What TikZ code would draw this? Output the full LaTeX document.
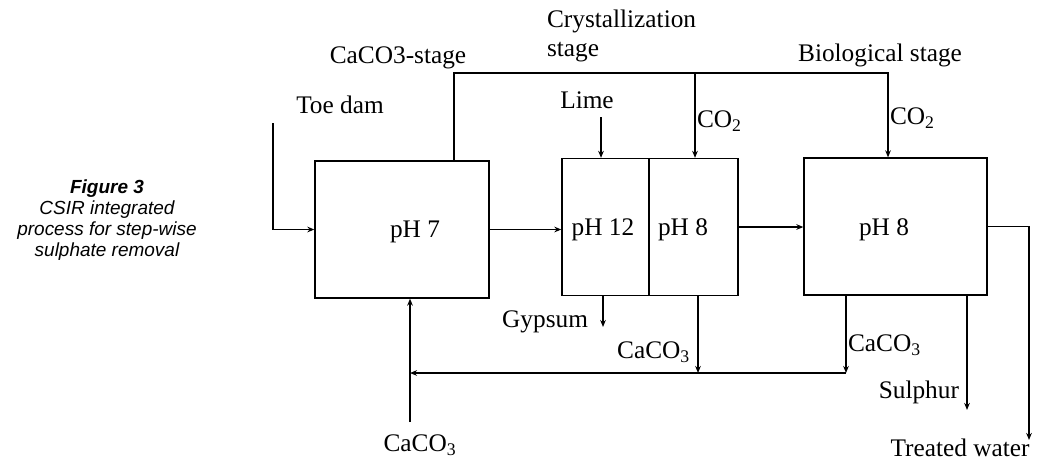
\documentclass[tikz,border=0pt]{standalone}
\usepackage{fontspec}
\setmainfont{Liberation Serif}
\newfontfamily\capfont{Liberation Sans}
\usetikzlibrary{arrows.meta,positioning,calc}

\begin{document}
\begin{tikzpicture}[>={Stealth[length=5pt,width=4pt]},x=0.025cm,y=-0.025cm,
  font=\fontsize{18}{20}\selectfont,line width=0.9pt,
  tank/.style={draw,rectangle,inner sep=0pt,minimum height=3.425cm},
  lbl/.style={inner sep=1pt}]
\useasboundingbox (0,0) rectangle (1049,460);
% the three stages
\node[tank,minimum width=4.35cm] (caco) at (402,229.5) {};
\node[tank,minimum width=4.4cm] (cryst) at (650,227) {};
\node[tank,minimum width=4.575cm] (bio) at (895.5,226.5) {};
\coordinate (wall) at (649,227);
\draw (wall |- cryst.north) -- (wall |- cryst.south);
\node (ph7) at (415,232) {pH 7};
\node (ph12) at (603,230) {pH 12};
\node (ph8a) at (683,230) {pH 8};
\node (ph8b) at (884,230) {pH 8};
% caption
\node[font=\capfont\fontsize{13.5}{15}\selectfont\itshape,align=center] (cap) at (107,220)
  {\textbf{Figure 3}\\CSIR integrated\\process for step-wise\\sulphate removal};
% stage names
\node[lbl] (toelbl) at (340,105) {Toe dam};
\node[lbl] (stage1) at (398,58) {CaCO3-stage};
\node[lbl,align=left,anchor=west] (stage2) at (545,36) {Crystallization\\stage};
\node[lbl] (stage3) at (880,55) {Biological stage};
\node[lbl] (limelbl) at (587,100) {Lime};
\node[lbl,anchor=west] (co2a) at (695,121) {CO\textsubscript{2}};
\node[lbl,anchor=west] (co2b) at (888,118) {CO\textsubscript{2}};
\node[lbl,anchor=east] (gyplbl) at (590,322) {Gypsum};
\node[lbl,anchor=east] (ca1lbl) at (692,352) {CaCO\textsubscript{3}};
\node[lbl,anchor=west] (ca2lbl) at (846,345) {CaCO\textsubscript{3}};
\node[lbl] (reclbl) at (420,445) {CaCO\textsubscript{3}};
\node[lbl,anchor=east] (sullbl) at (961,392) {Sulphur};
\node[lbl] (twlbl) at (960,448) {Treated water};
% points
\coordinate (toe) at (273,123);
\coordinate (topl) at (454,73);
\coordinate (topr) at (888,73);
\coordinate (co2c) at (695,73);
\coordinate (limein) at (601,117);
\coordinate (gyp) at (603,327);
\coordinate (ca1) at (698,373);
\coordinate (ca2) at (846,373);
\coordinate (rec) at (410,373);
\coordinate (recin) at (410,422);
\coordinate (sul) at (967,410);
\coordinate (tw) at (1029,440);
% flows
\draw[->] (toe) |- (caco.west);
\draw[->,line width=1.2pt] (caco.east) -- (caco.east -| cryst.west);
\draw[->,line width=1.2pt] (cryst.east) -- (cryst.east -| bio.west);
\draw[->] (topl |- caco.north) -- (topl) -- (topr) -- (topr |- bio.north);
\draw[->] (co2c) -- (co2c |- cryst.north);
\draw[->] (limein) -- (limein |- cryst.north);
\draw[->] (gyp |- cryst.south) -- (gyp);
\draw[->] (ca1 |- cryst.south) -- (ca1);
\draw[->] (ca2 |- bio.south) -- (ca2);
\draw[->] (ca2) -- (rec);
\draw[->] (recin) -- (recin |- caco.south);
\draw[->] (sul |- bio.south) -- (sul);
\draw[->] (bio.east) -| (tw);
\end{tikzpicture}
\end{document}
